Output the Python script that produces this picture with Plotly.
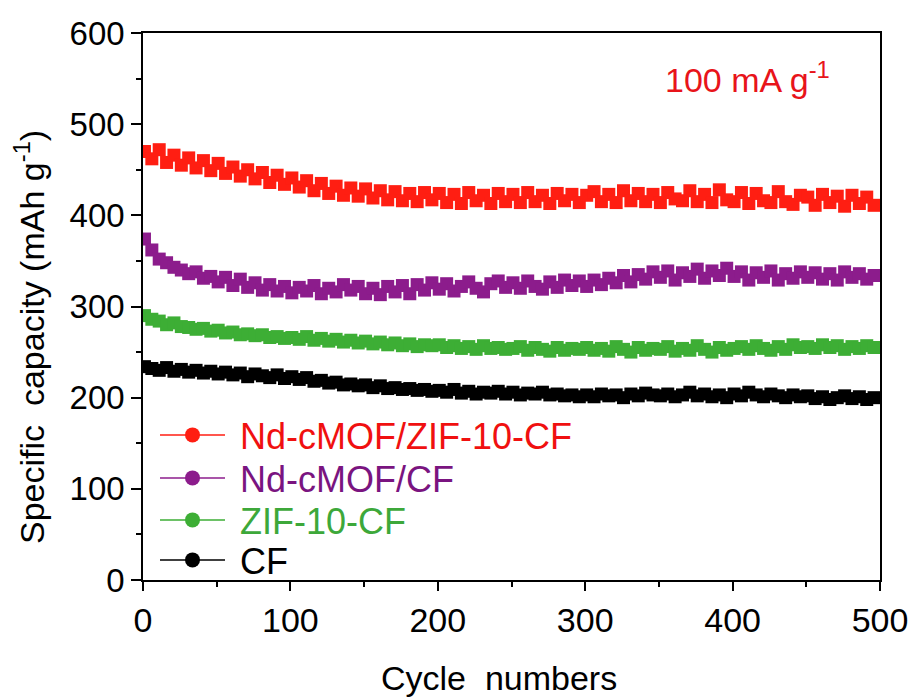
import plotly.graph_objects as go

cycles = list(range(1, 500, 5))

red_vals = [470, 462, 472, 458, 466, 455, 463, 452, 460, 449,
            457, 446, 453, 443, 450, 440, 447, 436, 444, 434,
            441, 431, 438, 427, 435, 424, 432, 422, 430, 421,
            429, 419, 427, 417, 426, 416, 424, 415, 425, 417,
            424, 414, 423, 413, 425, 416, 422, 413, 424, 415,
            423, 414, 425, 415, 422, 413, 424, 416, 423, 414,
            422, 426, 415, 423, 414, 427, 416, 424, 415, 423,
            414, 425, 418, 416, 427, 415, 423, 414, 428, 417,
            415, 425, 413, 424, 416, 414, 426, 415, 412, 422,
            420, 411, 423, 414, 421, 410, 422, 413, 420, 411]

purple_vals = [374, 362, 352, 348, 343, 340, 336, 338, 331, 333,
               327, 332, 323, 330, 321, 326, 318, 324, 317, 322,
               315, 321, 317, 323, 314, 320, 316, 324, 318, 322,
               314, 320, 313, 322, 316, 323, 314, 324, 318, 326,
               319, 325, 317, 322, 327, 320, 316, 325, 328, 321,
               326, 320, 328, 322, 319, 327, 321, 329, 323, 328,
               322, 329, 324, 331, 326, 334, 327, 335, 330, 338,
               332, 339, 329, 337, 333, 341, 331, 339, 334, 342,
               333, 338, 329, 337, 332, 339, 329, 336, 331, 338,
               332, 337, 330, 336, 329, 338, 332, 336, 330, 334]

green_vals = [290, 286, 284, 280, 282, 278, 277, 275, 276, 273,
              274, 271, 272, 269, 270, 268, 269, 266, 267, 265,
              266, 264, 267, 263, 265, 262, 264, 261, 263, 260,
              262, 259, 261, 258, 260, 257, 259, 256, 258, 257,
              258, 255, 257, 254, 256, 253, 257, 254, 255, 253,
              254, 256, 252, 255, 253, 251, 255, 252, 254, 253,
              255, 252, 254, 251, 256, 253, 250, 255, 252, 254,
              253, 256, 251, 254, 252, 257, 253, 250, 255, 252,
              254, 256, 253, 257, 254, 252, 256, 253, 258, 255,
              256, 254, 258, 255, 257, 253, 256, 254, 257, 255]

black_vals = [234, 232, 230, 233, 229, 231, 228, 230, 227, 229,
              226, 228, 225, 227, 223, 226, 224, 222, 225, 221,
              223, 220, 222, 218, 219, 216, 217, 214, 215, 213,
              214, 211, 213, 210, 211, 209, 210, 208, 209, 207,
              208, 206, 209, 205, 207, 204, 206, 205, 207, 204,
              206, 203, 205, 204, 206, 203, 204, 202, 203, 201,
              203, 201, 204, 202, 203, 200, 204, 202, 205, 203,
              202, 204, 201, 203, 206, 202, 204, 201, 203, 200,
              204, 202, 206, 203, 201, 204, 202, 200, 203, 201,
              202, 199, 201, 198, 200, 202, 199, 201, 198, 200]

series_names = ["Nd-cMOF/ZIF-10-CF", "Nd-cMOF/CF", "ZIF-10-CF", "CF"]
series_vals = [red_vals, purple_vals, green_vals, black_vals]
series_colors = ["#FF1E12", "#8C1C8C", "#3DAE35", "#000000"]
legend_text_colors = ["#F01010", "#7A1480", "#3DA83A", "#000000"]
legend_ids = ["legend", "legend2", "legend3", "legend4"]
legend_rows_px = [435, 478, 520, 560]

FONT = "Liberation Sans, Arial, sans-serif"

fig = go.Figure()

for name, vals, col in zip(series_names, series_vals, series_colors):
    fig.add_trace(go.Scatter(
        x=cycles, y=vals, mode="markers", showlegend=False,
        marker=dict(symbol="square", size=13, color=col, line=dict(width=0)),
    ))

for name, col, lid in zip(series_names, series_colors, legend_ids):
    fig.add_trace(go.Scatter(
        x=[None], y=[None], mode="lines+markers", name="\u00a0" + name, legend=lid,
        line=dict(color=col, width=1.5),
        marker=dict(symbol="circle", size=15, color=col),
    ))

legend_layout = {}
for lid, tcol, ypx in zip(legend_ids, legend_text_colors, legend_rows_px):
    legend_layout[lid] = dict(
        x=12 / 737, y=(580 - ypx) / 547, xanchor="left", yanchor="middle",
        bgcolor="rgba(0,0,0,0)", font=dict(size=36, family=FONT, color=tcol),
        itemwidth=65, itemsizing="trace",
    )

fig.update_layout(
    width=909, height=699,
    margin=dict(l=143, r=29, t=33, b=119, autoexpand=False),
    paper_bgcolor="white", plot_bgcolor="white",
    font=dict(family=FONT, color="black"),
    showlegend=True,
    **legend_layout,
    xaxis=dict(
        range=[0, 500], tickvals=[0, 100, 200, 300, 400, 500],
        showgrid=False, zeroline=False, automargin=False, ticklabeloverflow="allow",
        showline=True, linecolor="black", linewidth=1.5, mirror=True,
        ticks="outside", ticklen=9, tickwidth=1.5, tickcolor="black",
        minor=dict(tickvals=[50, 150, 250, 350, 450], ticks="outside", ticklen=5, tickwidth=1.5, tickcolor="black"),
        tickfont=dict(size=34, family=FONT),
    ),
    yaxis=dict(
        range=[0, 600], tickvals=[0, 100, 200, 300, 400, 500, 600],
        showgrid=False, zeroline=False, automargin=False, ticklabeloverflow="allow",
        showline=True, linecolor="black", linewidth=1.5, mirror=True,
        ticks="outside", ticklen=10, tickwidth=1.5, tickcolor="black",
        minor=dict(tickvals=[50, 150, 250, 350, 450, 550], ticks="outside", ticklen=5, tickwidth=1.5, tickcolor="black"),
        tickfont=dict(size=33, family=FONT),
    ),
    annotations=[
        dict(text="Specific  capacity (mAh g<sup>-1</sup>)", xref="paper", yref="paper",
             x=(29 - 143) / 737, y=(580 - 337) / 547, textangle=-90, showarrow=False,
             font=dict(size=34, family=FONT, color="black"), xanchor="center", yanchor="middle"),
        dict(text="Cycle  numbers", xref="paper", yref="paper",
             x=(499 - 143) / 737, y=(580 - 678) / 547, showarrow=False,
             font=dict(size=34, family=FONT, color="black"), xanchor="center", yanchor="middle"),
        dict(text="100 mA g<sup>-1</sup>", xref="paper", yref="paper",
             x=(663 - 143) / 737, y=(580 - 78) / 547, showarrow=False,
             font=dict(size=34, family=FONT, color="#E8141A"), xanchor="left", yanchor="middle"),
    ],
)

fig.write_html("out.html")
